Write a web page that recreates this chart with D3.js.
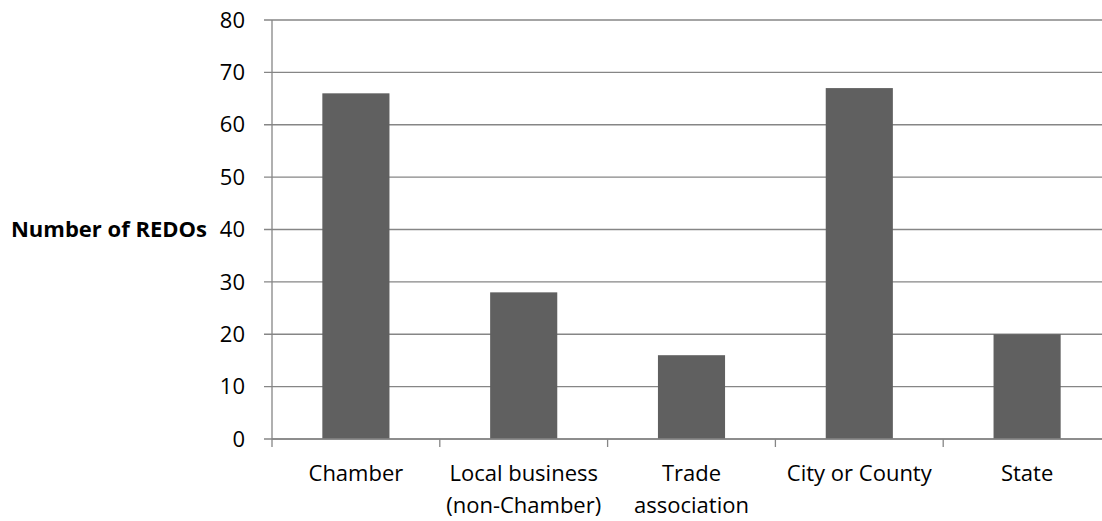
<!DOCTYPE html>
<html><head><meta charset="utf-8">
<script src="https://cdn.jsdelivr.net/npm/d3@7"></script>
<style>body{margin:0;background:#fff;}svg{display:block;}</style>
</head><body>
<script>
const categories = [["Chamber"], ["Local business", "(non-Chamber)"], ["Trade", "association"], ["City or County"], ["State"]];
const values = [66, 28, 16, 67, 20];
const yTicks = [0, 10, 20, 30, 40, 50, 60, 70, 80];
const yTitle = "Number of REDOs";

const W = 1102, H = 521;
const font = "Open Sans, sans-serif";
const fs = 22;
const svg = d3.select("body").append("svg").attr("width", W).attr("height", H);

const x0 = 272, x1 = 1111, yTop = 20, yBot = 439;
const keys = categories.map((d, i) => i);
const xBand = d3.scaleBand().domain(keys).range([x0, x1]).paddingInner(0).paddingOuter(0);
const xBar = d3.scaleBand().domain(keys).range([x0, x1]).paddingInner(0.6).paddingOuter(0.3);
const y = d3.scaleLinear().domain([0, 80]).range([yBot, yTop]);

const axisColor = "#868686";
// gridlines
svg.append("g").selectAll("line").data(yTicks).join("line")
  .attr("x1", x0 - 8).attr("x2", x1)
  .attr("y1", d => y(d)).attr("y2", d => y(d))
  .attr("stroke", axisColor).attr("stroke-width", 1.3);

// bars
svg.append("g").selectAll("rect").data(values).join("rect")
  .attr("x", (d, i) => xBar(i)).attr("width", xBar.bandwidth())
  .attr("y", d => y(d)).attr("height", d => y(0) - y(d))
  .attr("fill", "#606060");

// y axis line
svg.append("line").attr("x1", x0).attr("x2", x0).attr("y1", yTop).attr("y2", yBot)
  .attr("stroke", axisColor).attr("stroke-width", 1.3);
// x axis baseline
svg.append("line").attr("x1", x0).attr("x2", x1).attr("y1", yBot).attr("y2", yBot)
  .attr("stroke", axisColor).attr("stroke-width", 1.3);
// x ticks at band boundaries
const bounds = keys.map(k => xBand(k)).concat([x1]);
svg.append("g").selectAll("line").data(bounds).join("line")
  .attr("x1", d => d).attr("x2", d => d).attr("y1", yBot).attr("y2", yBot + 8)
  .attr("stroke", axisColor).attr("stroke-width", 1.3);

// y tick labels
svg.append("g").selectAll("text").data(yTicks).join("text")
  .attr("x", 245).attr("y", d => y(d)).attr("dy", "0.35em")
  .attr("text-anchor", "end").attr("font-family", font).attr("font-size", fs)
  .attr("fill", "#000").text(d => d);

// category labels
const cl = svg.append("g").selectAll("text").data(categories).join("text")
  .attr("text-anchor", "middle").attr("font-family", font).attr("font-size", fs).attr("fill", "#000")
  .attr("transform", (d, i) => `translate(${xBand(i) + xBand.bandwidth() / 2},0)`);
cl.selectAll("tspan").data(d => d).join("tspan")
  .attr("x", 0).attr("y", (d, j) => 481 + j * 32).text(d => d);

// y title
svg.append("text").attr("x", 207).attr("y", y(40)).attr("dy", "0.35em")
  .attr("text-anchor", "end").attr("font-family", font).attr("font-size", fs)
  .attr("font-weight", "bold").attr("fill", "#000").text(yTitle);
</script>
</body></html>
